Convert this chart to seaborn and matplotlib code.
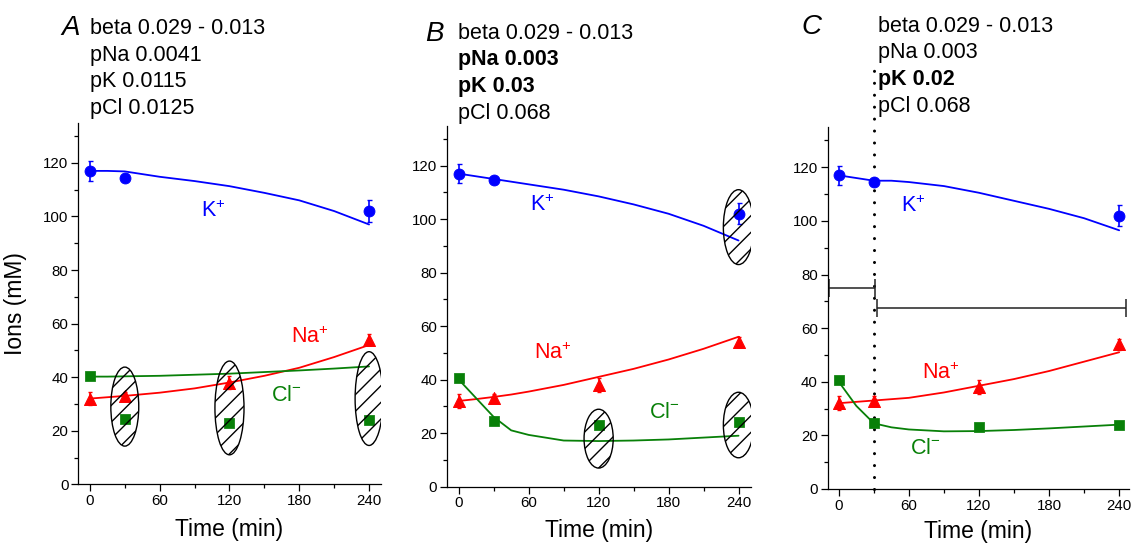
import matplotlib
matplotlib.use('Agg')
import matplotlib.pyplot as plt
from matplotlib.patches import Ellipse
from matplotlib.ticker import MultipleLocator
import pandas as pd
import seaborn as sns

# measured points (same in all three panels)
K_TIME = [0, 30, 240]
K_VALS = [117, 114.5, 102]
K_ERR = [3.6, 1.2, 4]
NA_TIME = [0, 30, 120, 240]
NA_VALS = [32, 33, 38, 54]
NA_ERR = [2.5, 1.5, 2.5, 2]
CL_TIME = [0, 30, 120, 240]
CL_VALS = [40.5, 24.5, 23, 24]

FIT_TIME = [0, 15, 30, 45, 60, 90, 120, 150, 180, 210, 240]
FIT_K = {
    'A': [117, 117, 116.8, 115.8, 114.8, 113.2, 111.3, 108.8, 106, 102, 97],
    'B': [117, 116, 115, 114, 113, 111, 108.5, 105.5, 102, 97.5, 92],
    'C': [117, 116, 115, 115, 114.5, 113, 110.5, 107.5, 104.5, 101, 96.5],
}
FIT_NA = {
    'A': [32, 32.5, 33, 33.6, 34.2, 35.8, 38, 40.5, 43.5, 47.5, 52],
    'B': [32, 32.7, 33.5, 34.4, 35.5, 38, 41, 44, 47.5, 51.5, 56],
    'C': [32, 32.5, 33, 33.5, 34, 36, 38.5, 41, 44, 47.5, 51],
}
FIT_CL = {
    'A': [40.2, 40.2, 40.3, 40.4, 40.5, 40.9, 41.3, 41.9, 42.5, 43.2, 44],
    'B': [40, 33, 26, 21, 19.3, 17.2, 17, 17.2, 17.6, 18.3, 19],
    'C': [40, 31, 24.5, 23, 22.2, 21.5, 21.6, 22, 22.6, 23.3, 24],
}

# parameter text per panel: (line, bold?)
PARAMS = {
    'A': [('beta 0.029 - 0.013', False), ('pNa 0.0041', False), ('pK 0.0115', False), ('pCl 0.0125', False)],
    'B': [('beta 0.029 - 0.013', False), ('pNa 0.003', True), ('pK 0.03', True), ('pCl 0.068', False)],
    'C': [('beta 0.029 - 0.013', False), ('pNa 0.003', False), ('pK 0.02', True), ('pCl 0.068', False)],
}

# ion label positions (time, mM)
LABEL_POS = {
    'A': {'K': (106, 102), 'Na': (189, 55), 'Cl': (169, 33)},
    'B': {'K': (72, 105), 'Na': (81, 50), 'Cl': (176, 27.5)},
    'C': {'K': (64, 105.5), 'Na': (87, 43), 'Cl': (74, 15)},
}

# hatched ellipses: (time, mM, width min, height mM)
ELLIPSES = {
    'A': [(30, 29, 24, 29.5), (120, 28.5, 25, 35), (240, 32, 24, 35)],
    'B': [(240, 97, 26, 28), (120, 17.9, 25, 22), (240, 23, 26, 24.5)],
    'C': [],
}

# panel C: switch time and the two protocol intervals
SWITCH_TIME = 30
INTERVAL_START = [-8, 33]
INTERVAL_END = [31, 245.5]
INTERVAL_LEVEL = [75, 67.6]

BLUE = '#0000ff'
RED = '#ff0000'
GREEN = '#088008'

AX_RECTS = {
    'A': [0.0692, 0.1114, 0.2674, 0.6635],
    'B': [0.3950, 0.1073, 0.2688, 0.6624],
    'C': [0.7318, 0.1028, 0.2660, 0.6640],
}
XLIMS = {'A': (-10, 250), 'B': (-10.3, 250.5), 'C': (-9.5, 248)}
XLABEL_PAD = {'A': 7, 'B': 6.5, 'C': 5}
LETTER_XY = {'A': (0.0540, 0.948), 'B': (0.376, 0.938), 'C': (0.709, 0.951)}
TEXT_XY = {'A': (0.0796, 0.948), 'B': (0.405, 0.939), 'C': (0.776, 0.952)}
LINE_STEP = 0.0490


def draw_panel(fig, key):
    ax = fig.add_axes(AX_RECTS[key])
    fit = pd.DataFrame({'t': FIT_TIME, 'K': FIT_K[key], 'Na': FIT_NA[key], 'Cl': FIT_CL[key]})
    sns.lineplot(fit, x='t', y='K', color=BLUE, lw=1.3, ax=ax)
    sns.lineplot(fit, x='t', y='Na', color=RED, lw=1.3, ax=ax)
    sns.lineplot(fit, x='t', y='Cl', color=GREEN, lw=1.3, ax=ax)

    ax.errorbar(K_TIME, K_VALS, yerr=K_ERR, fmt='none', ecolor=BLUE, elinewidth=1.2, capsize=1.8, zorder=3)
    ax.errorbar(NA_TIME, NA_VALS, yerr=NA_ERR, fmt='none', ecolor=RED, elinewidth=1.2, capsize=1.5, zorder=3)
    sns.scatterplot(x=K_TIME, y=K_VALS, color=BLUE, marker='o', s=62, edgecolor=BLUE, ax=ax, zorder=4)
    sns.scatterplot(x=NA_TIME, y=NA_VALS, color=RED, marker='^', s=75, edgecolor=RED, ax=ax, zorder=4)
    sns.scatterplot(x=CL_TIME, y=CL_VALS, color=GREEN, marker='s', s=44, edgecolor=GREEN, ax=ax, zorder=4)

    for (t, v, w, h) in ELLIPSES[key]:
        ax.add_patch(Ellipse((t, v), w, h, facecolor='none', edgecolor='black', hatch='//', lw=1.0, zorder=5))

    pos = LABEL_POS[key]
    ax.text(*pos['K'], 'K$^{+}$', color=BLUE, fontsize=15.5, ha='center', va='center')
    ax.text(*pos['Na'], 'Na$^{+}$', color=RED, fontsize=15.5, ha='center', va='center')
    ax.text(*pos['Cl'], 'Cl$^{-}$', color=GREEN, fontsize=15.5, ha='center', va='center')

    if key == 'C':
        ax.axvline(SWITCH_TIME, ymin=0, ymax=1.174, color='black', lw=2.2,
                   linestyle=(0, (0.01, 3.9)), dash_capstyle='round', clip_on=False)
        for x0, x1, lev in zip(INTERVAL_START, INTERVAL_END, INTERVAL_LEVEL):
            ax.errorbar((x0 + x1) / 2, lev, xerr=(x1 - x0) / 2, fmt='none', ecolor='#222222',
                        elinewidth=1.1, capsize=6.5, capthick=1.1, clip_on=False)

    ax.set_xlim(*XLIMS[key])
    ax.set_ylim(0, 135)
    ax.xaxis.set_major_locator(MultipleLocator(60))
    ax.xaxis.set_minor_locator(MultipleLocator(30))
    ax.yaxis.set_major_locator(MultipleLocator(20))
    ax.yaxis.set_minor_locator(MultipleLocator(10))
    ax.tick_params(which='major', length=5, width=0.9, labelsize=10.8, pad=2,
                   colors='black', labelcolor='black')
    ax.tick_params(which='minor', length=3, width=0.9, colors='black')
    ax.set_xlabel('Time (min)', fontsize=16.5, labelpad=XLABEL_PAD[key], color='black')
    if key == 'A':
        ax.set_ylabel('Ions (mM)', fontsize=16.5, color='black')
        ax.yaxis.set_label_coords(-0.17, 0.5)
    else:
        ax.set_ylabel('')
    sns.despine(ax=ax)
    for s in ['left', 'bottom']:
        ax.spines[s].set_linewidth(0.9)
        ax.spines[s].set_color('black')

    fig.text(*LETTER_XY[key], key, fontsize=20, style='italic', ha='left', va='center', color='black')
    tx, ty = TEXT_XY[key]
    for i, (line, bold) in enumerate(PARAMS[key]):
        fig.text(tx, ty - i * LINE_STEP, line, fontsize=15.5, ha='left', va='center', color='black',
                 fontweight='bold' if bold else 'normal')
    return ax


if __name__ == "__main__":
    sns.set_style('ticks')
    plt.rcParams['font.family'] = ['Liberation Sans', 'DejaVu Sans']
    plt.rcParams['mathtext.fontset'] = 'custom'
    plt.rcParams['mathtext.rm'] = 'Liberation Sans'
    plt.rcParams['mathtext.default'] = 'regular'

    fig = plt.figure(figsize=(11.31, 5.45), dpi=100)
    for key in ['A', 'B', 'C']:
        draw_panel(fig, key)
    fig.savefig('out.png', dpi=100, facecolor='white')
